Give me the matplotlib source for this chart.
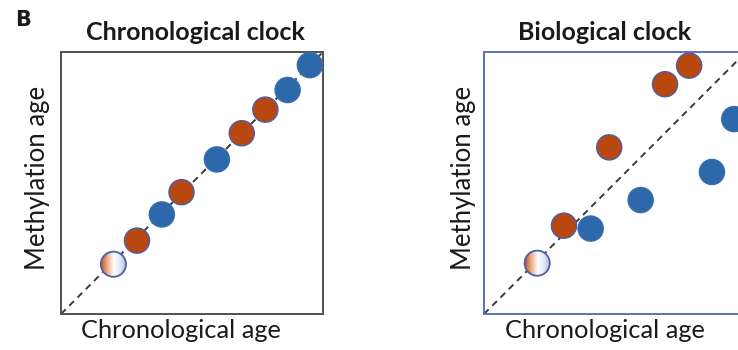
import numpy as np
import matplotlib
matplotlib.use("Agg")
import matplotlib.pyplot as plt
from matplotlib.patches import Circle
from matplotlib.colors import LinearSegmentedColormap

plt.rcParams['font.family'] = ['Lato', 'DejaVu Sans']

# Chronological clock: methylation age tracks chronological age
chrono_x = [20, 29, 38.5, 46, 59.5, 69, 78, 86.5, 95]
chrono_y = [19, 28, 38, 46.5, 59, 69, 78, 85.5, 95]
chrono_kind = ['young', 'orange', 'blue', 'orange', 'blue', 'orange', 'orange', 'blue', 'blue']

# Biological clock: methylation age deviates from chronological age
bio_x = [20.3, 30.5, 40.7, 47.8, 59.8, 69.1, 78.3, 87.0, 95.5]
bio_y = [19.4, 33.7, 32.6, 63.6, 43.5, 87.7, 94.8, 54.2, 74.4]
bio_kind = ['young', 'orange', 'blue', 'orange', 'blue', 'orange', 'orange', 'blue', 'blue']

ORANGE = '#b9480f'
BLUE = '#2d68ab'
EDGE = '#4b5fae'
RADIUS = 4.8

W, H = 738, 350
fig = plt.figure(figsize=(W / 100, H / 100), dpi=100)


def axes_px(left, top, width, height):
    return fig.add_axes([left / W, (H - top - height) / H, width / W, height / H])


grad_cmap = LinearSegmentedColormap.from_list(
    'young', [(0.0, '#c0571f'), (0.22, '#e8a57f'), (0.5, '#ffffff'), (0.75, '#dfe6f4'), (1.0, '#9fb4de')])


def draw_panel(ax, xs, ys, kinds, frame_color):
    ax.set_xlim(0, 100)
    ax.set_ylim(0, 100)
    ax.set_xticks([])
    ax.set_yticks([])
    for s in ax.spines.values():
        s.set_color(frame_color)
        s.set_linewidth(1.4)
    ax.plot([0, 100], [0, 100], ls=(0, (3.4, 2.6)), color='#3a3a3a', lw=1.4, zorder=1)
    for x, y, k in zip(xs, ys, kinds):
        if k == 'young':
            grad = np.tile(np.linspace(0, 1, 200), (2, 1))
            im = ax.imshow(grad, cmap=grad_cmap, extent=[x - RADIUS, x + RADIUS, y - RADIUS, y + RADIUS],
                           aspect='auto', zorder=2, interpolation='bilinear')
            clip = Circle((x, y), RADIUS, transform=ax.transData, facecolor='none')
            im.set_clip_path(clip)
            ax.add_patch(Circle((x, y), RADIUS, facecolor='none', edgecolor=EDGE, lw=1.3, zorder=3))
        else:
            fc = ORANGE if k == 'orange' else BLUE
            ec = EDGE if k == 'orange' else '#3a6db0'
            ax.add_patch(Circle((x, y), RADIUS, facecolor=fc, edgecolor=ec, lw=1.0, zorder=3))
    ax.set_xlim(0, 100)
    ax.set_ylim(0, 100)


ax1 = axes_px(61, 52, 262, 262)
draw_panel(ax1, chrono_x, chrono_y, chrono_kind, '#505050')

ax2 = axes_px(484, 52, 262, 262)
draw_panel(ax2, bio_x, bio_y, bio_kind, '#5a72b8')


def ftext(px, py, s, **kw):
    fig.text(px / W, 1 - py / H, s, ha='center', va='center', color='#1a1a1a', **kw)


ftext(23, 20, 'B', fontsize=15, fontweight='bold', family='DejaVu Sans')
ftext(195, 32, 'Chronological clock', fontsize=18, fontweight='bold')
ftext(605, 32, 'Biological clock', fontsize=18, fontweight='bold')
ftext(181, 330, 'Chronological age', fontsize=18.3)
ftext(605, 330, 'Chronological age', fontsize=18.3)
ftext(38, 178, 'Methylation age', fontsize=18.5, rotation=90)
ftext(463, 178, 'Methylation age', fontsize=18.5, rotation=90)

fig.savefig('out.png', dpi=100)
